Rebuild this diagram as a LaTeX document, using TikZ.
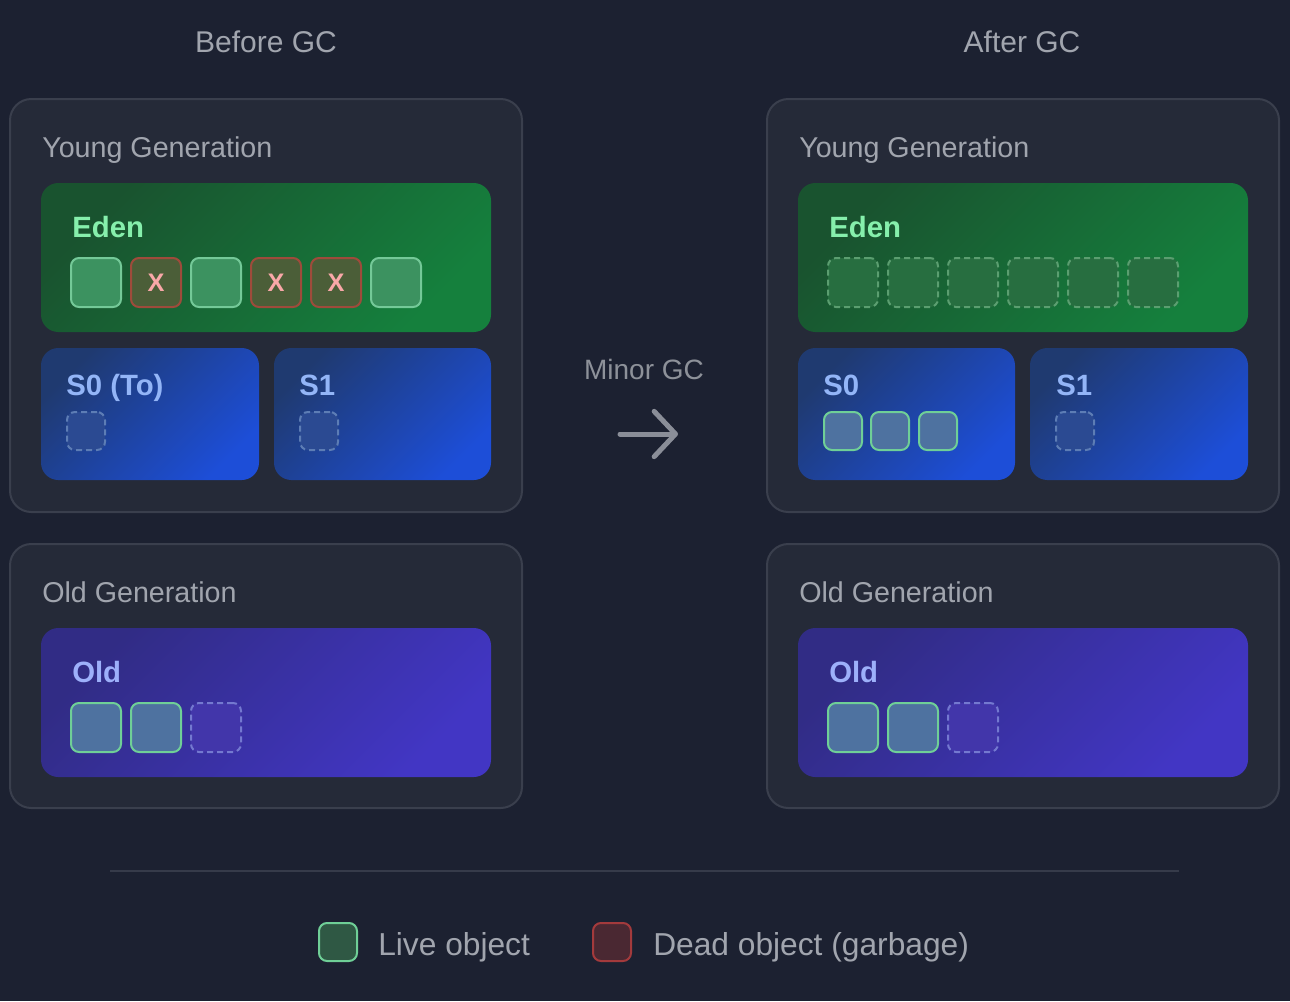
\documentclass[tikz,border=0pt]{standalone}
\usepackage{fontspec}
\setmainfont{Liberation Sans}
\usetikzlibrary{fit,arrows.meta}
\definecolor{bg}{HTML}{1C2131}
\definecolor{panelfill}{HTML}{252A38}
\definecolor{panelborder}{HTML}{3A3F4D}
\definecolor{txtgray}{HTML}{A1A5AE}
\definecolor{midgray}{HTML}{8D9199}
\definecolor{edenA}{HTML}{19532F}
\definecolor{edenB}{HTML}{15803D}
\definecolor{edenlbl}{HTML}{86EFAC}
\definecolor{survA}{HTML}{1F3A70}
\definecolor{survB}{HTML}{1D4ED8}
\definecolor{survlbl}{HTML}{93B5F7}
\definecolor{oldA}{HTML}{312C85}
\definecolor{oldB}{HTML}{4236C4}
\definecolor{oldlbl}{HTML}{9DB0FA}
\definecolor{liveEfill}{HTML}{3C9260}
\definecolor{liveEdraw}{HTML}{74C998}
\definecolor{deadfill}{HTML}{4B5E38}
\definecolor{deaddraw}{HTML}{9E4B3B}
\definecolor{xcol}{HTML}{F9A8A8}
\definecolor{liveBfill}{HTML}{4E72A0}
\definecolor{liveBdraw}{HTML}{6FCF97}
\definecolor{emptyEfill}{HTML}{276E40}
\definecolor{emptyEdraw}{HTML}{5B9E70}
\definecolor{emptySfill}{HTML}{2B4A92}
\definecolor{emptySdraw}{HTML}{5D7DB5}
\definecolor{emptyOfill}{HTML}{4236AA}
\definecolor{emptyOdraw}{HTML}{7479D0}
\definecolor{legLfill}{HTML}{2F5844}
\definecolor{legDfill}{HTML}{4A2832}
\definecolor{legDdraw}{HTML}{A33A3C}
\definecolor{sepline}{HTML}{363B4A}
\definecolor{arrowcol}{HTML}{8A8E98}
\begin{document}
\begin{tikzpicture}[x=0.75pt,y=-0.75pt,
  panel/.style={draw=panelborder, line width=1.5pt, fill=panelfill, rounded corners=16pt, inner sep=0pt},
  region/.style 2 args={inner sep=0pt, rounded corners=13pt, left color=#1, right color=#2, shading angle=45},
  obj/.style={inner sep=0pt, rounded corners=6pt, line width=1.5pt},
  liveE/.style={obj, fill=liveEfill, draw=liveEdraw},
  dead/.style={obj, fill=deadfill, draw=deaddraw},
  liveB/.style={obj, fill=liveBfill, draw=liveBdraw},
  emptyE/.style={obj, fill=emptyEfill, draw=emptyEdraw, dash pattern=on 4.5pt off 3pt},
  emptyS/.style={obj, fill=emptySfill, draw=emptySdraw, dash pattern=on 4.5pt off 3pt},
  emptyO/.style={obj, fill=emptyOfill, draw=emptyOdraw, dash pattern=on 4.5pt off 3pt},
  title/.style={text=txtgray, font=\fontsize{22.5pt}{26pt}\selectfont, inner sep=0pt, anchor=base},
  seclbl/.style={text=txtgray, font=\fontsize{21.5pt}{25pt}\selectfont, inner sep=0pt, anchor=base west},
  reglbl/.style={font=\bfseries\fontsize{22pt}{26pt}\selectfont, inner sep=0pt, anchor=base west},
  xmark/.style={text=xcol, font=\bfseries\fontsize{19pt}{22pt}\selectfont, inner sep=0pt},
  legtxt/.style={text=txtgray, font=\fontsize{23.8pt}{28pt}\selectfont, inner sep=0pt, anchor=base west}
]
\fill[bg] (0,0) rectangle (1290,1001);
\useasboundingbox (0,0) rectangle (1290,1001);

% titles
\node[title] (tbefore) at (266,52) {Before GC};
\node[title] (tafter) at (1022,52) {After GC};

% ===== BEFORE =====
\node[panel, fit={(10,99) (522,512)}] (byoung) {};
\node[seclbl] (byounglbl) at (42,157) {Young Generation};
\node[region={edenA}{edenB}, fit={(41,183) (491,332)}] (beden) {};
\node[reglbl, text=edenlbl] (bedenlbl) at (72,237) {Eden};
\node[liveE, fit={(71,258) (121,307)}] (be1) {};
\node[dead, fit={(131,258) (181,307)}] (be2) {};
\node[liveE, fit={(191,258) (241,307)}] (be3) {};
\node[dead, fit={(251,258) (301,307)}] (be4) {};
\node[dead, fit={(311,258) (361,307)}] (be5) {};
\node[liveE, fit={(371,258) (421,307)}] (be6) {};
\node[xmark] (bx2) at (be2) {X};
\node[xmark] (bx4) at (be4) {X};
\node[xmark] (bx5) at (be5) {X};

\node[region={survA}{survB}, fit={(41,348) (259,480)}] (bs0) {};
\node[reglbl, text=survlbl] (bs0lbl) at (66,395) {S0 (To)};
\node[emptyS, fit={(67,412) (105,450)}] (bs0e) {};
\node[region={survA}{survB}, fit={(274,348) (491,480)}] (bs1) {};
\node[reglbl, text=survlbl] (bs1lbl) at (299,395) {S1};
\node[emptyS, fit={(300,412) (338,450)}] (bs1e) {};

\node[panel, fit={(10,544) (522,808)}] (bold) {};
\node[seclbl] (boldlbl) at (42,602) {Old Generation};
\node[region={oldA}{oldB}, fit={(41,628) (491,777)}] (boldr) {};
\node[reglbl, text=oldlbl] (boldrlbl) at (72,682) {Old};
\node[liveB, fit={(71,703) (121,752)}] (bo1) {};
\node[liveB, fit={(131,703) (181,752)}] (bo2) {};
\node[emptyO, fit={(191,703) (241,752)}] (bo3) {};

% ===== ARROW =====
\node[text=midgray, font=\fontsize{21pt}{25pt}\selectfont, inner sep=0pt, anchor=base] (minor) at (644,379) {Minor GC};
\coordinate (arrS) at (620,434);
\coordinate (arrE) at (678,434);
\draw[arrowcol, line width=3.75pt, line cap=round, -{Straight Barb[round, length=16pt, width=34pt]}] (arrS) -- (arrE);

% ===== AFTER =====
\node[panel, fit={(767,99) (1279,512)}] (ayoung) {};
\node[seclbl] (ayounglbl) at (799,157) {Young Generation};
\node[region={edenA}{edenB}, fit={(798,183) (1248,332)}] (aeden) {};
\node[reglbl, text=edenlbl] (aedenlbl) at (829,237) {Eden};
\node[emptyE, fit={(828,258) (878,307)}] (ae1) {};
\node[emptyE, fit={(888,258) (938,307)}] (ae2) {};
\node[emptyE, fit={(948,258) (998,307)}] (ae3) {};
\node[emptyE, fit={(1008,258) (1058,307)}] (ae4) {};
\node[emptyE, fit={(1068,258) (1118,307)}] (ae5) {};
\node[emptyE, fit={(1128,258) (1178,307)}] (ae6) {};

\node[region={survA}{survB}, fit={(798,348) (1015,480)}] (as0) {};
\node[reglbl, text=survlbl] (as0lbl) at (823,395) {S0};
\node[liveB, fit={(824,412) (862,450)}] (as01) {};
\node[liveB, fit={(871,412) (909,450)}] (as02) {};
\node[liveB, fit={(919,412) (957,450)}] (as03) {};
\node[region={survA}{survB}, fit={(1030,348) (1248,480)}] (as1) {};
\node[reglbl, text=survlbl] (as1lbl) at (1056,395) {S1};
\node[emptyS, fit={(1056,412) (1094,450)}] (as1e) {};

\node[panel, fit={(767,544) (1279,808)}] (aold) {};
\node[seclbl] (aoldlbl) at (799,602) {Old Generation};
\node[region={oldA}{oldB}, fit={(798,628) (1248,777)}] (aoldr) {};
\node[reglbl, text=oldlbl] (aoldrlbl) at (829,682) {Old};
\node[liveB, fit={(828,703) (878,752)}] (ao1) {};
\node[liveB, fit={(888,703) (938,752)}] (ao2) {};
\node[emptyO, fit={(948,703) (998,752)}] (ao3) {};

% ===== LEGEND =====
\coordinate (sepL) at (110,871);
\coordinate (sepR) at (1179,871);
\draw[sepline, line width=1.5pt] (sepL) -- (sepR);
\node[obj, fill=legLfill, draw=liveBdraw, fit={(319,923) (357,961)}] (leglive) {};
\node[legtxt] (leglivetxt) at (378,955) {Live object};
\node[obj, fill=legDfill, draw=legDdraw, fit={(593,923) (631,961)}] (legdead) {};
\node[legtxt] (legdeadtxt) at (653,955) {Dead object (garbage)};
\end{tikzpicture}
\end{document}
